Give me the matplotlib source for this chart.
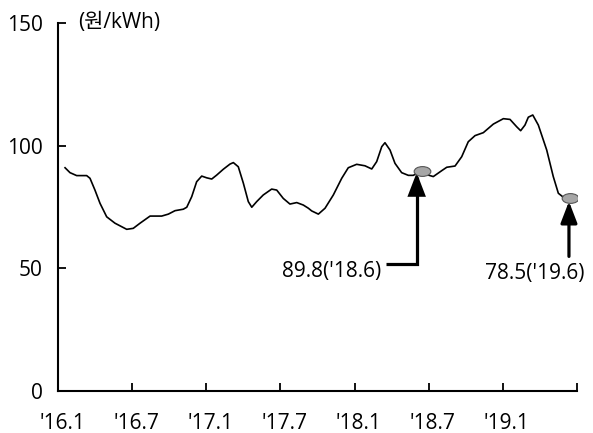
import matplotlib
matplotlib.use("Agg")
import matplotlib.pyplot as plt
from matplotlib.path import Path
from matplotlib.transforms import Affine2D, offset_copy, ScaledTranslation

plt.rcParams['font.family'] = ['Open Sans', 'Noto Sans CJK KR', 'DejaVu Sans']

# Time axis in months since Jan 2016
months = [0.57, 0.97, 1.51, 2.32, 2.59, 2.99, 3.40, 3.94, 4.61, 5.56, 6.09, 6.64,
          7.45, 8.39, 8.93, 9.47, 10.14, 10.42, 10.82, 11.22, 11.63, 12.03, 12.44,
          12.84, 13.38, 13.92, 14.19, 14.59, 15.00, 15.40, 15.68, 16.08, 16.61,
          17.29, 17.70, 18.23, 18.77, 19.32, 19.85, 20.26, 20.53, 21.07, 21.61,
          22.28, 22.96, 23.49, 24.17, 24.84, 25.39, 25.79, 26.20, 26.46, 26.87,
          27.27, 27.81, 28.35, 28.75, 29.43, 29.97, 30.37, 31.05, 31.46, 32.13,
          32.67, 33.20, 33.75, 34.42, 35.23, 36.04, 36.58, 37.12, 37.44, 37.79,
          38.06, 38.42, 38.87, 39.55, 40.08, 40.49, 40.89, 41.43]
price = [91.0, 89.0, 87.8, 87.8, 86.7, 81.9, 76.5, 71.0, 68.4, 65.9, 66.3, 68.4,
         71.3, 71.3, 72.1, 73.5, 74.1, 74.9, 79.2, 85.3, 87.6, 86.9, 86.4,
         88.0, 90.4, 92.5, 93.1, 91.4, 84.7, 77.2, 74.9, 77.2, 79.9,
         82.3, 81.9, 78.5, 76.2, 76.8, 75.8, 74.5, 73.4, 72.1, 74.5,
         79.9, 86.7, 91.0, 92.4, 91.8, 90.5, 93.5, 99.6, 101.2, 98.2,
         92.8, 89.0, 87.9, 87.9, 89.8, 88.0, 87.4, 89.8, 91.2, 91.7,
         95.5, 101.6, 104.1, 105.3, 108.8, 111.0, 110.7, 107.7, 106.1, 108.4,
         111.6, 112.5, 108.4, 98.2, 87.4, 80.6, 79.0, 78.5]

tick_months = [0, 6, 12, 18, 24, 30, 36, 42]
tick_labels = ["'16.1", "'16.7", "'17.1", "'17.7", "'18.1", "'18.7", "'19.1", ""]

# Highlighted points: (month, value, label)
highlights = [(29.43, 89.8, "89.8('18.6)"), (41.43, 78.5, "78.5('19.6)")]

FS = 15

fig = plt.figure(figsize=(5.93, 4.33), dpi=100)
ax = fig.add_axes([58 / 593, 42 / 433, 519 / 593, 368 / 433])

ax.plot(months, price, color='black', lw=1.2, solid_joinstyle='round', zorder=3)

ellipse = Path.unit_circle().transformed(Affine2D().scale(1.7, 1.0))
for mx, my, _ in highlights:
    ax.plot([mx], [my], marker=ellipse, markersize=12, color='#a6a6a6',
            markeredgecolor='#555555', markeredgewidth=0.8, zorder=5)

ax.set_xlim(0, 42)
ax.set_ylim(0, 150)
ax.set_yticks([0, 50, 100, 150])
ax.set_xticks(tick_months)
ax.set_xticklabels(tick_labels)
ax.tick_params(axis='both', direction='in', length=6, width=1.3, labelsize=FS,
               colors='black')
ax.tick_params(axis='y', pad=11)
ax.tick_params(axis='x', pad=16)
nudge = ScaledTranslation(4 / 100, 0, fig.dpi_scale_trans)
for lab in ax.get_xticklabels():
    lab.set_transform(lab.get_transform() + nudge)
for s in ['top', 'right']:
    ax.spines[s].set_visible(False)
for s in ['left', 'bottom']:
    ax.spines[s].set_linewidth(1.5)
    ax.spines[s].set_color('black')

ax.text(1.6, 150, "(원/kWh)", fontsize=FS, ha='left', va='center')


def shifted(dx, dy):
    return offset_copy(ax.transData, fig=fig, x=dx, y=dy, units='dots')


head = '-|>,head_length=1.3,head_width=0.5'

# Callout for the first highlighted point: elbow arrow
m1, v1, t1 = highlights[0]
ax.annotate('', xy=(m1, v1), xycoords=shifted(-5, -2),
            xytext=(m1, v1), textcoords=shifted(-36, -93),
            arrowprops=dict(arrowstyle=head, lw=2.3, color='black',
                            mutation_scale=10, shrinkA=0, shrinkB=0,
                            joinstyle='miter', capstyle='butt',
                            connectionstyle='angle,angleA=0,angleB=90,rad=0'))
ax.text(m1, v1, t1, transform=shifted(-40, -101), ha='right', va='center',
        fontsize=FS)

# Callout for the second highlighted point: straight arrow
m2, v2, t2 = highlights[1]
ax.annotate('', xy=(m2, v2), xycoords=shifted(-1, -3),
            xytext=(m2, v2), textcoords=shifted(-1, -58),
            arrowprops=dict(arrowstyle=head, lw=2.3, color='black',
                            mutation_scale=10, shrinkA=0, shrinkB=0))
ax.text(m2, v2, t2, transform=shifted(-35, -75), ha='center', va='center',
        fontsize=FS)

fig.savefig('out.png', dpi=100)
